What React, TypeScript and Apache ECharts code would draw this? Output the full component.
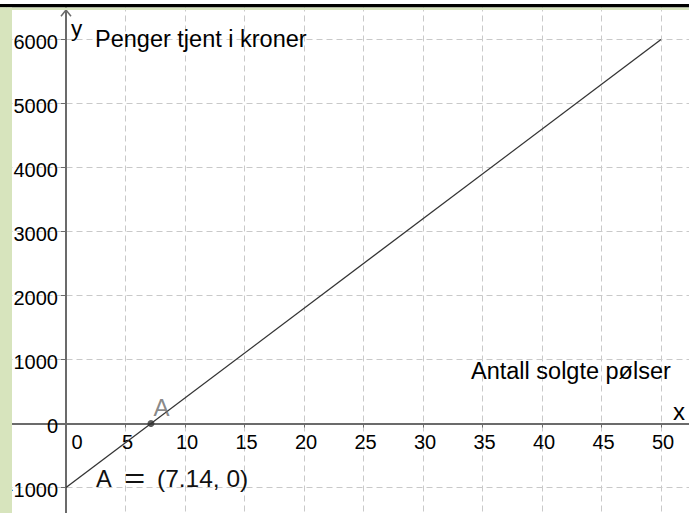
import React, { useEffect, useRef } from "react";
import * as echarts from "echarts";

// Data
const lineX = [0, 50];
const lineY = [-1000, 6000];
const pointA = [7.14, 0];
const yTitle = "Penger tjent i kroner";
const xTitle = "Antall solgte pølser";
const xName = "x";
const yName = "y";
const pointName = "A";

const FONT = "'Liberation Sans', Arial, sans-serif";

export default function App() {
  const ref = useRef<HTMLDivElement>(null);
  useEffect(() => {
    if (!ref.current) return;
    const chart = echarts.init(ref.current, undefined, { renderer: "svg" });
    const axisColor = "#6b6b6b";
    const gridColor = "#c9c9c9";
    const option: any = {
      animation: false,
      backgroundColor: "#ffffff",
      grid: {
        left: 6.5,
        right: -31.5,
        top: -24.5,
        bottom: -38.5,
        containLabel: false,
        outerBoundsMode: "none",
      },
      xAxis: {
        type: "value",
        position: "bottom",
        offset: -128,
        min: -5,
        max: 55,
        interval: 5,
        axisLine: { onZero: false, lineStyle: { color: axisColor, width: 2 } },
        axisTick: { show: true, inside: false, length: 4, lineStyle: { color: axisColor, width: 1 } },
        splitLine: { show: true, lineStyle: { color: gridColor, width: 1, type: [6, 4] } },
        axisLabel: {
          margin: 8,
          color: "#000",
          fontSize: 20,
          fontFamily: FONT,
          formatter: (v: number) =>
            v < 0 || v > 50 ? "" : v === 0 ? "{z|0}" : "{n|" + v + "}",
          rich: {
            n: { fontSize: 20, fontFamily: FONT, color: "#000", padding: [0, 0, 0, 4] },
            z: { fontSize: 20, fontFamily: FONT, color: "#000", padding: [0, 0, 0, 22] },
          },
        },
      },
      yAxis: {
        type: "value",
        position: "left",
        offset: -59.5,
        min: -2000,
        max: 7000,
        interval: 1000,
        axisLine: { onZero: false, lineStyle: { color: axisColor, width: 2 } },
        axisTick: { show: true, inside: false, length: 5, lineStyle: { color: axisColor, width: 1 } },
        splitLine: { show: true, lineStyle: { color: gridColor, width: 1, type: [6, 4] } },
        axisLabel: {
          margin: 8,
          color: "#000",
          fontSize: 20,
          fontFamily: FONT,
          formatter: (v: number) =>
            v < -1000 || v > 6000 ? "" : "{t|" + (v < 0 ? "\u2212" + -v : String(v)) + "}",
          rich: {
            t: { fontSize: 20, fontFamily: FONT, color: "#000", padding: [4, 0, 0, 0] },
          },
        },
      },
      series: [
        {
          type: "line",
          data: lineX.map((x, i) => [x, lineY[i]]),
          showSymbol: false,
          lineStyle: { color: "#333333", width: 1.3 },
          z: 3,
        },
        {
          type: "scatter",
          data: [pointA],
          symbolSize: 7,
          itemStyle: { color: "#333333" },
          label: {
            show: true,
            formatter: pointName,
            position: [6, -25],
            color: "#6a6a6a",
            fontSize: 24,
            fontFamily: FONT,
          },
          z: 4,
        },
      ],
      graphic: [
        { type: "rect", shape: { x: 0, y: 0, width: 689, height: 4 }, style: { fill: "#ffffff" }, z: 100 },
        { type: "rect", shape: { x: 0, y: 4, width: 689, height: 3.5 }, style: { fill: "#000000" }, z: 100 },
        { type: "rect", shape: { x: 0, y: 7.5, width: 689, height: 2.5 }, style: { fill: "#d7e4bd" }, z: 100 },
        { type: "rect", shape: { x: 0, y: 7.5, width: 12, height: 506 }, style: { fill: "#d7e4bd" }, z: 100 },
        {
          type: "polyline",
          shape: { points: [[61, 16.3], [66, 10], [71, 16.3]] },
          style: { stroke: axisColor, lineWidth: 1.5, fill: "none" },
          z: 50,
        },
        {
          type: "text",
          x: 71,
          y: 28.6,
          style: { text: yName, font: "22.5px " + FONT, fill: "#000", verticalAlign: "middle", align: "left" },
          z: 50,
        },
        {
          type: "text",
          x: 95,
          y: 38.5,
          style: { text: yTitle, font: "23.5px " + FONT, fill: "#000", verticalAlign: "middle", align: "left" },
          z: 50,
        },
        {
          type: "text",
          x: 471,
          y: 371.3,
          style: { text: xTitle, font: "23.5px " + FONT, fill: "#000", verticalAlign: "middle", align: "left" },
          z: 50,
        },
        {
          type: "text",
          x: 673,
          y: 411,
          style: { text: xName, font: "24px " + FONT, fill: "#000", verticalAlign: "middle", align: "left" },
          z: 50,
        },
        {
          type: "text",
          x: 96,
          y: 478.5,
          style: { text: pointName, font: "23.5px " + FONT, fill: "#111", verticalAlign: "middle", align: "left" },
          z: 50,
        },
        {
          type: "text",
          x: 124,
          y: 478.5,
          scaleX: 1.3,
          style: { text: "=", font: "28px " + FONT, fill: "#111", verticalAlign: "middle", align: "left" },
          z: 50,
        },
        {
          type: "text",
          x: 157,
          y: 478.5,
          style: {
            text: "(" + pointA[0].toFixed(2) + ", " + pointA[1] + ")",
            font: "24.5px " + FONT,
            fill: "#111",
            verticalAlign: "middle",
            align: "left",
          },
          z: 50,
        },
      ],
    };
    chart.setOption(option);
    return () => chart.dispose();
  }, []);
  return (
    <div
      ref={ref}
      style={{ position: "fixed", left: 0, top: 0, width: 689, height: 513 }}
    />
  );
}
